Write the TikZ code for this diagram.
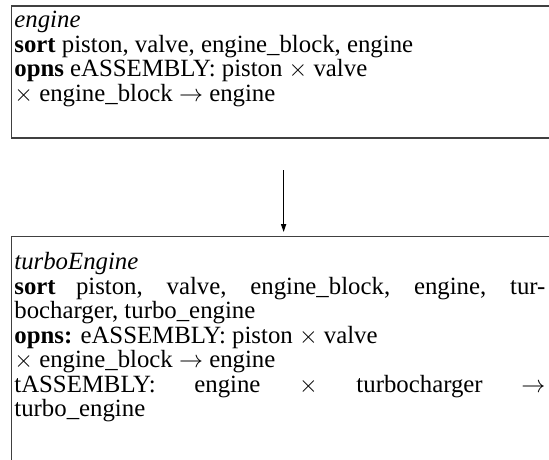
\documentclass[tikz,border=0pt]{standalone}
\usepackage{fontspec}
\setmainfont{Liberation Serif}
\usetikzlibrary{positioning, arrows.meta}

\begin{document}
\begin{tikzpicture}[
        x=1pt, y=1pt,
        >={Triangle[length=4pt, width=2.6pt]},
        frame/.style={rectangle, draw=black!75, line width=0.6pt, minimum width=272pt, anchor=north west, inner sep=0pt},
        spec/.style={inner sep=0pt, text width=265.5pt, align=justify, anchor=north west, font=\fontsize{12.4}{12.25}\selectfont},
        arrow/.style={->, line width=0.5pt, draw=black},
    ]

    \useasboundingbox (0,0) rectangle (274.5,-229.5);
    \clip (0,0) rectangle (274.5,-229.5);

    % === BOXES ===
    \node[frame, minimum height=66pt] (engbox) at (5.5,-2.75) {};
    \node[frame, minimum height=130pt] (turbobox) at (5.5,-118) {};

    % === SPECIFICATIONS ===
    \node[spec] (engspec) at ([xshift=1.5pt, yshift=-2.6pt]engbox.north west) {%
        \textit{engine}\\
        \textbf{sort} piston, valve, engine\_block, engine\\
        \textbf{opns} eASSEMBLY: piston $\times$ valve\\
        $\times$ engine\_block $\rightarrow$ engine};
    \node[spec] (turbospec) at ([xshift=1.5pt, yshift=-8pt]turbobox.north west) {%
        \textit{turboEngine}\\
        \textbf{sort} piston, valve, engine\_block, engine, tur-\linebreak bocharger, turbo\_engine\\
        \textbf{opns:} eASSEMBLY: piston $\times$ valve\\
        $\times$ engine\_block $\rightarrow$ engine\\
        tASSEMBLY: engine $\times$ turbocharger $\rightarrow$\linebreak turbo\_engine};

    % === ARROW ===
    \draw[arrow, shorten <=15.75pt, shorten >=2pt] (engbox) -- (turbobox);

\end{tikzpicture}
\end{document}
